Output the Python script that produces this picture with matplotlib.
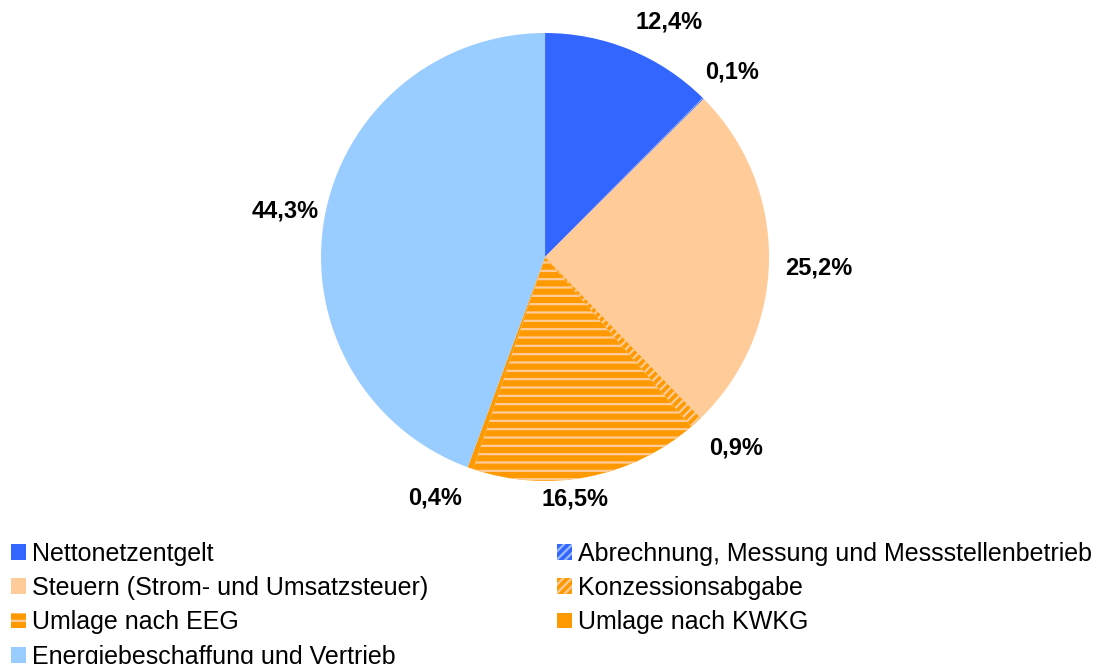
import matplotlib
matplotlib.use("Agg")
import matplotlib.pyplot as plt
import numpy as np

plt.rcParams['font.family'] = ['Liberation Sans', 'DejaVu Sans']
plt.rcParams['hatch.linewidth'] = 1.6

# Strompreis-Bestandteile (Anteile in %)
categories = [
    "Nettonetzentgelt",
    "Abrechnung, Messung und Messstellenbetrieb",
    "Steuern (Strom- und Umsatzsteuer)",
    "Konzessionsabgabe",
    "Umlage nach EEG",
    "Umlage nach KWKG",
    "Energiebeschaffung und Vertrieb",
]
shares = [12.4, 0.1, 25.2, 0.9, 16.5, 0.4, 44.3]
value_labels = ["12,4%", "0,1%", "25,2%", "0,9%", "16,5%", "0,4%", "44,3%"]

face_colors = ["#3366FF", "#3366FF", "#FFCC99", "#FF9900", "#FF9900", "#FF9900", "#99CCFF"]
hatch_colors = ["#3366FF", "#99BBFF", "#FFCC99", "#FFCC99", "#FFCC99", "#FF9900", "#99CCFF"]
hatches = [None, "////", None, "////", "--", None, None]

# label nudges in pixels (x right, y up)
nudges = [(23, -9), (0, -2), (9, -9), (13, 4), (-20, 17), (-22, 8), (0, 0)]

fig = plt.figure(figsize=(10.96, 6.64), dpi=100)
ax = fig.add_axes([0.2929, 0.2756, 0.4088, 0.6747])

wedges, _ = ax.pie(shares, startangle=90, counterclock=False, radius=1.0,
                   normalize=True, colors=face_colors,
                   wedgeprops=dict(linewidth=0))
ax.set_xlim(-1, 1)
ax.set_ylim(-1, 1)
ax.set_aspect('equal')
ax.axis('off')

for w, hc, h in zip(wedges, hatch_colors, hatches):
    w.set_edgecolor(hc)
    w.set_linewidth(0)
    if h:
        w.set_hatch(h)

label_r = 1.18
for w, txt, (nx, ny) in zip(wedges, value_labels, nudges):
    mid = np.deg2rad((w.theta1 + w.theta2) / 2)
    x, y = label_r * np.cos(mid), label_r * np.sin(mid)
    ax.annotate(txt, xy=(x, y), xytext=(nx * 0.72, ny * 0.72),
                textcoords='offset points', ha='center', va='center',
                fontsize=17, fontweight='bold', color='black',
                annotation_clip=False)

leg_kw = dict(frameon=False, fontsize=18, handlelength=0.6, handleheight=0.6,
              handletextpad=0.25, labelspacing=0.41, borderpad=0, borderaxespad=0)
left_idx = [0, 2, 4, 6]
right_idx = [1, 3, 5]
fig.legend([wedges[i] for i in left_idx], [categories[i] for i in left_idx],
           loc='upper left', bbox_to_anchor=(0.010, 0.184), **leg_kw)
fig.legend([wedges[i] for i in right_idx], [categories[i] for i in right_idx],
           loc='upper left', bbox_to_anchor=(0.508, 0.184), **leg_kw)

fig.savefig("out.png", dpi=100)
